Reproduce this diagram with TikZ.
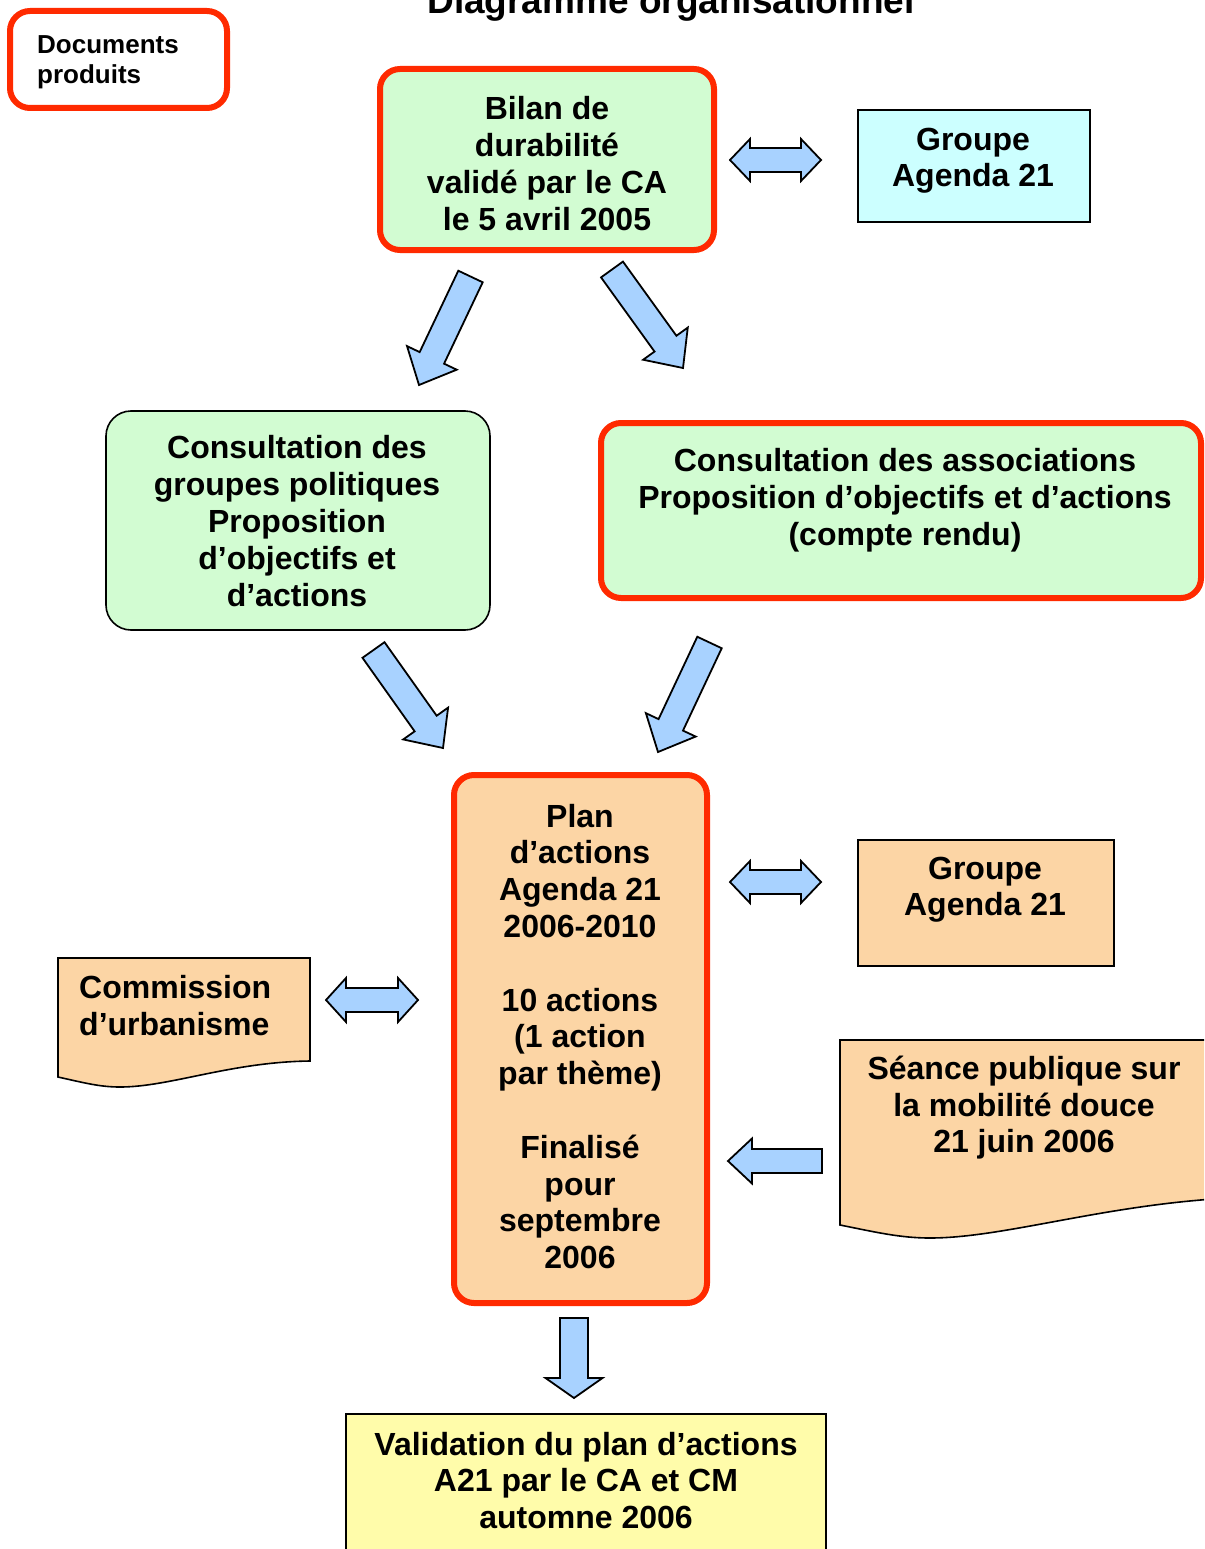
\documentclass[tikz,border=0pt]{standalone}
\usepackage{fontspec}
\setmainfont{Liberation Sans}
\usetikzlibrary{calc}
\definecolor{redb}{RGB}{255,42,0}
\definecolor{greenf}{RGB}{210,252,210}
\definecolor{orangef}{RGB}{252,213,165}
\definecolor{cyanf}{RGB}{204,255,255}
\definecolor{yellowf}{RGB}{255,252,170}
\definecolor{bluef}{RGB}{168,210,255}
\tikzset{
  redbox/.style={draw=redb, line width=6pt, rounded corners=20pt, inner sep=0pt},
  thinbox/.style={draw=black, line width=1.6pt, inner sep=0pt},
  docshape/.style={draw=black, line width=1.6pt, fill=orangef},
  barrow/.style={draw=black, line width=1.8pt, fill=bluef},
  txt/.style={font=\fontsize{32}{36.8}\selectfont\bfseries, align=center, inner sep=0pt, anchor=north, execute at begin node=\strut},
  smalltxt/.style={font=\fontsize{26}{30}\selectfont\bfseries, align=left, inner sep=0pt, anchor=north west, execute at begin node=\strut},
}
% block arrow: tail, tip, shaft half width, head half width, head length
\newcommand\blockarrow[5]{%
  \path ($(#2)!#5!(#1)$) coordinate (bahead);
  \draw[barrow] ($(#1)!#3!90:(#2)$) -- ($(bahead)!#3!90:(#2)$) -- ($(bahead)!#4!90:(#2)$) -- (#2)
    -- ($(bahead)!#4!-90:(#2)$) -- ($(bahead)!#3!-90:(#2)$) -- ($(#1)!#3!-90:(#2)$) -- cycle;}
% double block arrow: end1, end2, shaft half width, head half width, head length
\newcommand\dblarrow[5]{%
  \path ($(#1)!#5!(#2)$) coordinate (dbA) ($(#2)!#5!(#1)$) coordinate (dbB);
  \draw[barrow] (#1) -- ($(dbA)!#4!90:(#2)$) -- ($(dbA)!#3!90:(#2)$) -- ($(dbB)!#3!-90:(#1)$)
    -- ($(dbB)!#4!-90:(#1)$) -- (#2) -- ($(dbB)!#4!90:(#1)$) -- ($(dbB)!#3!90:(#1)$)
    -- ($(dbA)!#3!-90:(#2)$) -- ($(dbA)!#4!-90:(#2)$) -- cycle;}
\begin{document}
\begin{tikzpicture}[x=1pt,y=-1pt]
\useasboundingbox (0,0) rectangle (1204,1549);
\clip (0,0) rectangle (1204,1549);

% title
\node[font=\fontsize{37}{44}\selectfont\bfseries, anchor=base, inner sep=0pt] (title) at (671,13.5) {Diagramme organisationnel};

% legend box
\node[redbox, minimum width=217pt, minimum height=97pt] (docs) at (118.5,59.5) {};
\node[smalltxt] (docst) at (37,35) {Documents\\produits};

% Bilan
\node[redbox, fill=greenf, minimum width=334pt, minimum height=181pt] (bilan) at (547,159.5) {};
\node[txt] (bilant) at (547,96.6) {Bilan de\\durabilité\\validé par le CA\\le 5 avril 2005};

% Groupe Agenda 21 (top)
\node[thinbox, fill=cyanf, minimum width=232pt, minimum height=112pt] (gtop) at (974,166) {};
\node[txt] (gtopt) at (973,127.6) {Groupe\\Agenda 21};

% Consultation groupes politiques
\node[thinbox, fill=greenf, rounded corners=25pt, minimum width=384pt, minimum height=219pt] (cgp) at (298,520.5) {};
\node[txt] (cgpt) at (297,435.6) {Consultation des\\groupes politiques\\Proposition\\d’objectifs et\\d’actions};

% Consultation associations
\node[redbox, fill=greenf, minimum width=600pt, minimum height=175pt] (cas) at (901,510.5) {};
\node[txt] (cast) at (905,448.6) {Consultation des associations\\Proposition d’objectifs et d’actions\\(compte rendu)};

% Plan d'actions
\node[redbox, fill=orangef, minimum width=253pt, minimum height=528pt] (plan) at (580.5,1039) {};
\node[txt] (plant) at (580,803.6) {Plan\\d’actions\\Agenda 21\\2006-2010\\[36.8pt]10 actions\\(1 action\\par thème)\\[36.8pt]Finalisé\\pour\\septembre\\2006};

% Groupe Agenda 21 (bottom)
\node[thinbox, fill=orangef, minimum width=256pt, minimum height=126pt] (gbot) at (986,903) {};
\node[txt] (gbott) at (985,856.6) {Groupe\\Agenda 21};

% Commission d'urbanisme (document shape)
\draw[docshape] (58,958) coordinate (comm) -- (310,958) -- (310,1061)
  .. controls (230,1062) and (170,1087) .. (120,1087)
  .. controls (100,1087) and (85,1083) .. (58,1077) -- cycle;
\node[txt, anchor=north west, align=left] (commt) at (79,975.6) {Commission\\d’urbanisme};

% Seance publique (document shape)
\draw[docshape] (840,1040) coordinate (seance) -- (1260,1040) -- (1260,1197)
  .. controls (1120,1199) and (1010,1238) .. (930,1238)
  .. controls (900,1238) and (875,1232) .. (840,1225) -- cycle;
\node[txt] (seancet) at (1024,1055.6) {Séance publique sur\\la mobilité douce\\21 juin 2006};

% Validation
\node[thinbox, fill=yellowf, minimum width=480pt, minimum height=156pt] (valid) at (586,1492) {};
\node[txt] (validt) at (586,1431.6) {Validation du plan d’actions\\A21 par le CA et CM\\automne 2006};

% arrow end points
\coordinate (a1l) at (730,160);   \coordinate (a1r) at (821,160);
\coordinate (a2t) at (470.5,276.5); \coordinate (a2h) at (419,385);
\coordinate (a3t) at (612,269.5); \coordinate (a3h) at (683,368);
\coordinate (a4t) at (373.5,650); \coordinate (a4h) at (443,748);
\coordinate (a5t) at (709.5,642.5); \coordinate (a5h) at (658,752);
\coordinate (a6l) at (730,882);   \coordinate (a6r) at (821,882);
\coordinate (a7l) at (326,1000);  \coordinate (a7r) at (418,1000);
\coordinate (a8t) at (822,1161);  \coordinate (a8h) at (728,1161);
\coordinate (a9t) at (574,1318);  \coordinate (a9h) at (574,1398);

\dblarrow{a1l}{a1r}{12pt}{21pt}{20pt}
\blockarrow{a2t}{a2h}{13.5pt}{27.5pt}{30pt}
\blockarrow{a3t}{a3h}{13.5pt}{27.5pt}{30pt}
\blockarrow{a4t}{a4h}{13.5pt}{27.5pt}{30pt}
\blockarrow{a5t}{a5h}{13.5pt}{27.5pt}{30pt}
\dblarrow{a6l}{a6r}{12pt}{21pt}{20pt}
\dblarrow{a7l}{a7r}{12pt}{22pt}{20pt}
\blockarrow{a8t}{a8h}{12pt}{22.5pt}{24pt}
\blockarrow{a9t}{a9h}{14pt}{28.5pt}{20pt}
\end{tikzpicture}
\end{document}
